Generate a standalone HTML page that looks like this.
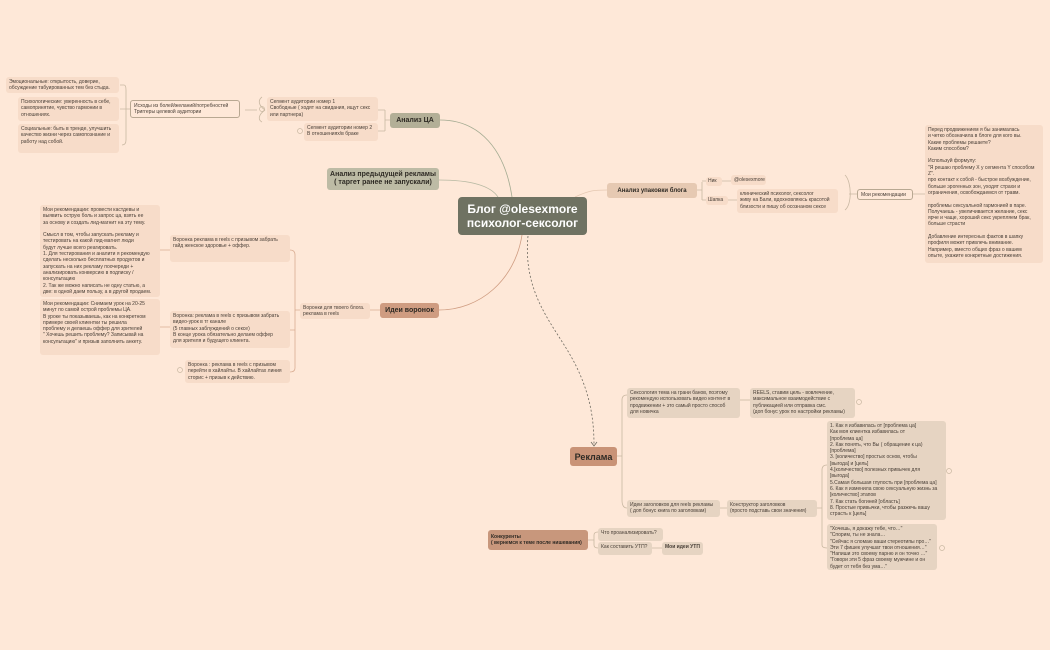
<!DOCTYPE html>
<html><head><meta charset="utf-8"><style>
body{margin:0;width:1050px;height:650px;background:#fee8d8;position:relative;overflow:hidden;font-family:"Liberation Sans","DejaVu Sans",sans-serif;color:#4a4038}
.b{position:absolute;box-sizing:border-box;border-radius:3px;font-size:5px;line-height:6.3px;padding:2px 3px;background:#f7dcc9;white-space:nowrap;overflow:hidden}
.g{background:#e6d4c2}
.o{background:transparent;border:0.8px solid #b8a892}
.m{font-weight:bold;font-size:7px;text-align:center;display:flex;align-items:center;justify-content:center;line-height:8px;color:#2e2a24}
svg{position:absolute;left:0;top:0}
</style></head><body>
<svg width="1050" height="650" fill="none" stroke-width="0.8">
<path d="M512,197 C505,150 480,120 440,120" stroke="#a4ab92"/>
<path d="M498,197 C490,185 470,180 439,180" stroke="#b6b8a2"/>
<path d="M575,197 C590,190 595,190 607,190" stroke="#e5c8b2"/>
<path d="M522,235 C515,280 480,310 439,310" stroke="#cf9c81"/>
<path d="M528,236 C522,300 560,330 578,370 C592,400 594,425 594,446" stroke="#6e6a60" stroke-dasharray="2,2"/>
<path d="M591,442 l3,4 l3,-4" stroke="#6e6a60"/>
<g stroke="#c9b8a2">
<path d="M390,120 L385,120 M385,110 L385,131 M385,110 L378,110 M385,131 L378,131"/>
<path d="M265,110 C258,105 258,100 262,97 M265,110 C258,115 258,120 262,122 M245,110 L257,110"/>
<path d="M130,109 L125,109 M120,85 L124,85 Q126,85 126,90 L126,140 Q126,145 122,145 M126,109 L120,109"/>
<path d="M697,190 L702,190 M702,182 L702,200 M702,181 L706,181 M702,200 L706,200 M720,181 L731,181 M727,200 L737,200"/>
<path d="M845,175 C852,182 852,205 845,210 M849,194 L857,194 M913,194 L925,194"/>
<path d="M617,456 L622,456 M622,400 Q622,395 627,395 M622,400 L622,500 Q622,508 627,508 M720,508 L727,508 M817,508 L822,508 M822,470 Q822,465 827,465 M822,470 L822,545 Q822,548 827,548"/>
<path d="M588,540 L594,540 M594,535 Q594,532 598,532 M594,535 L594,545 Q594,548 598,548 M652,548 L662,548"/>
<path d="M740,400 L750,400"/>
</g>
<g stroke="#d9ad93">
<path d="M380,310 L370,310 M300,310 L295,310 M295,255 Q295,250 290,250 M295,255 L295,368 Q295,372 290,372 M295,330 L290,330 M160,250 L170,250 M160,327 L170,327"/>
</g>
<g stroke="#c9b8a2" stroke-width="0.7"><circle cx="859" cy="402" r="2.5"/><circle cx="949" cy="471" r="2.5"/><circle cx="942" cy="548" r="2.5"/><circle cx="180" cy="370" r="2.5"/><circle cx="262" cy="109" r="2.5"/><circle cx="300" cy="131" r="2.5"/></g>
</svg>

<div class="b m" style="left:458px;top:197px;width:129px;height:38px;background:#6f7262;color:#fff;font-size:12px;line-height:14px;border-radius:4px">Блог @olesexmore<br>психолог-сексолог</div>
<div class="b m" style="left:390px;top:113px;width:50px;height:15px;background:#b3af97">Анализ ЦА</div>
<div class="b m" style="left:327px;top:168px;width:112px;height:22px;background:#bdbba5">Анализ предыдущей рекламы<br>( таргет ранее не запускали)</div>
<div class="b m" style="left:607px;top:183px;width:90px;height:15px;background:#e6c9b2;font-size:6px">Анализ упаковки блога</div>
<div class="b m" style="left:380px;top:303px;width:59px;height:15px;background:#cf9c81">Идеи воронок</div>
<div class="b m" style="left:570px;top:447px;width:47px;height:19px;background:#c99377;font-size:9px">Реклама</div>
<div class="b m" style="left:488px;top:530px;width:100px;height:20px;background:#c8977c;font-size:5px;line-height:6.5px;text-align:left;justify-content:flex-start">Конкуренты<br>( вернемся к теме после нишевания)</div>

<div class="b" style="left:6px;top:77px;width:113px;height:16px">Эмоциональные: открытость, доверие,<br>обсуждение табуированных тем без стыда.</div>
<div class="b" style="left:18px;top:97px;width:101px;height:24px">Психологические: уверенность в себе,<br>самопринятие, чувство гармонии в<br>отношениях.</div>
<div class="b" style="left:18px;top:124px;width:101px;height:29px">Социальные: быть в тренде, улучшить<br>качество жизни через самопознание и<br>работу над собой.</div>
<div class="b o" style="left:130px;top:100px;width:110px;height:18px">Исходы из болей/желаний/потребностей<br>Триггеры целевой аудитории</div>
<div class="b" style="left:267px;top:97px;width:111px;height:24px">Сегмент аудитории номер 1<br>Свободные ( ходят на свидания, ищут секс<br>или партнера)</div>
<div class="b" style="left:304px;top:123px;width:74px;height:18px">Сегмент аудитории номер 2<br>В отношениях/в браке</div>

<div class="b" style="left:706px;top:177px;width:16px;height:9px;padding:1px 2px">Ник</div>
<div class="b" style="left:731px;top:175px;width:35px;height:10px">@olesexmore</div>
<div class="b" style="left:706px;top:196px;width:22px;height:9px;padding:1px 2px">Шапка</div>
<div class="b" style="left:737px;top:189px;width:101px;height:24px">клинический психолог, сексолог<br>живу на Бали, вдохновляюсь красотой<br>близости и пишу об осознаном сексе</div>
<div class="b o" style="left:857px;top:189px;width:56px;height:11px;padding:1.5px 3px">Мои рекомендации</div>
<div class="b" style="left:925px;top:125px;width:118px;height:138px">Перед продвижением я бы занималась<br>и четко обозначила в блоге для кого вы.<br>Какие проблемы решаете?<br>Каким способом?<br><br>Используй формулу:<br>"Я решаю проблему X у сегмента Y способом<br>Z".<br>про контакт к собой - быстрое возбуждение,<br>больше эрогенных зон, уходят страхи и<br>ограничения, освобождаемся от травм.<br><br>проблемы сексуальной гармонией в паре.<br>Получаешь - увеличивается желание, секс<br>ярче и чаще, хороший секс укрепляем брак,<br>больше страсти<br><br>Добавление интересных фактов в шапку<br>профиля может привлечь внимание.<br>Например, вместо общих фраз о вашем<br>опыте, укажите конкретные достижения.</div>

<div class="b" style="left:40px;top:205px;width:120px;height:92px">Мои рекомендации: провести кастдевы и<br>выявить острую боль и запрос ца, взять ее<br>за основу и создать лид-магнит на эту тему.<br><br>Смысл в том, чтобы запускать рекламу и<br>тестировать на какой лид-магнит люди<br>будут лучше всего реагировать.<br>1. Для тестирования и аналити я рекомендую<br>сделать несколько бесплатных продуктов и<br>запускать на них рекламу поочереди +<br>анализировать конверсию в подписку /<br>консультацию<br>2. Так же можно написать не одну статью, а<br>две: в одной даем пользу, а в другой продаем.</div>
<div class="b" style="left:40px;top:299px;width:120px;height:56px">Мои рекомендации: Снимаем урок на 20-25<br>минут по самой острой проблемы ЦА.<br>В уроке ты показываешь, как на конкретном<br>примере своей клиентки ты решила<br>проблему и делаешь оффер для зрителей<br>" Хочешь решить проблему? Записывай на<br>консультацию" и призыв заполнить анкету.</div>
<div class="b" style="left:170px;top:235px;width:120px;height:27px">Воронка реклама в reels с призывом забрать<br>гайд женское здоровье + оффер.</div>
<div class="b" style="left:170px;top:311px;width:120px;height:37px">Воронка: реклама в reels с призывом забрать<br>видео-урок в тг канале<br>(5 главных заблуждений о сексе)<br>В конце урока обязательно делаем оффер<br>для зрителя и будущего клиента.</div>
<div class="b" style="left:185px;top:360px;width:105px;height:23px">Воронка : реклама в reels с призывом<br>перейти в хайлайты. В хайлайтах линия<br>сторис + призыв к действию.</div>
<div class="b" style="left:300px;top:303px;width:70px;height:16px">Воронки для твоего блога.<br>реклама в reels</div>

<div class="b g" style="left:627px;top:388px;width:113px;height:30px">Сексология тема на грани банов, поэтому<br>рекомендую использовать видео контент в<br>продвижении + это самый просто способ<br>для новичка</div>
<div class="b g" style="left:750px;top:388px;width:105px;height:30px">REELS, ставим цель - вовлечение,<br>максимальное взаимодействие с<br>публикацией или отправка смс.<br>(доп бонус урок по настройки рекламы)</div>
<div class="b g" style="left:627px;top:500px;width:93px;height:17px">Идеи заголовков для reels рекламы<br>( доп бонус книга по заголовкам)</div>
<div class="b g" style="left:727px;top:500px;width:90px;height:17px">Конструктор заголовков<br>(просто подставь свои значения)</div>
<div class="b g" style="left:827px;top:421px;width:119px;height:99px">1. Как я избавилась от [проблема ца]<br>Как моя клиентка избавилась от<br>[проблема ца]<br>2. Как понять, что Вы ( обращение к ца)<br>[проблема]<br>3. [количество] простых основ, чтобы<br>[выгода] и [цель]<br>4.[количество] полезных привычек для<br>[выгода]<br>5.Самая большая глупость при [проблема ца]<br>6. Как я изменила свою сексуальную жизнь за<br>[количество] этапов<br>7. Как стать богиней [область]<br>8. Простые привычки, чтобы разжечь вашу<br>страсть к [цель]</div>
<div class="b g" style="left:827px;top:524px;width:110px;height:46px">"Хочешь, я докажу тебе, что…"<br>"Спорим, ты не знала…<br>"Сейчас я сломаю ваши стереотипы про…"<br>Эти 7 фишек улучшат твои отношения…"<br>"Напиши это своему парню и он точно …"<br>"Говори эти 5 фраз своему мужчине и он<br>будет от тебя без ума…"</div>
<div class="b g" style="left:598px;top:528px;width:65px;height:13px">Что проанализировать?</div>
<div class="b g" style="left:598px;top:542px;width:54px;height:13px">Как составить УТП?</div>
<div class="b g" style="left:662px;top:542px;width:41px;height:13px;font-weight:bold">Мои идеи УТП</div>
</body></html>
